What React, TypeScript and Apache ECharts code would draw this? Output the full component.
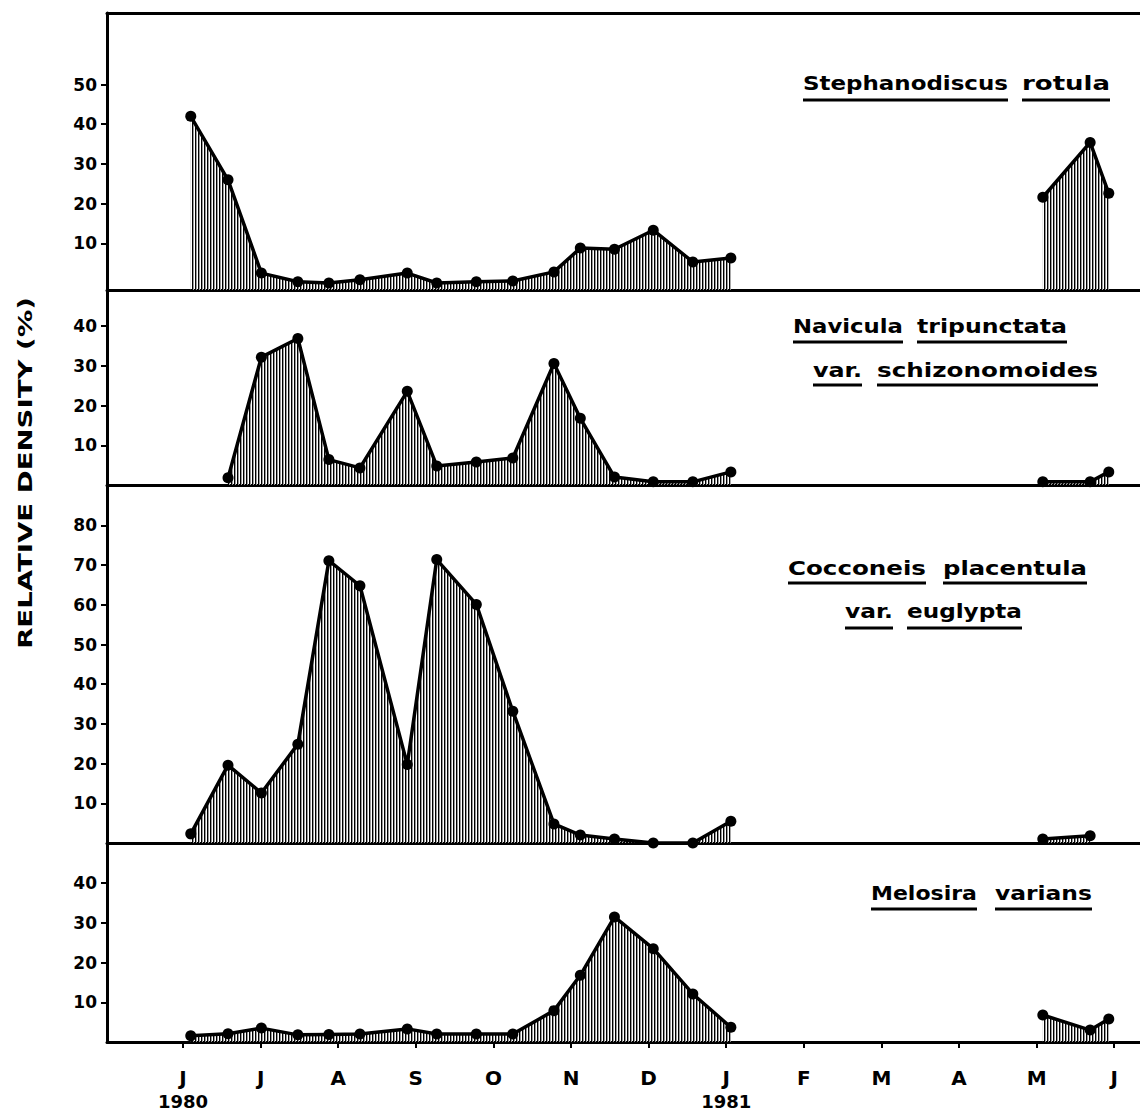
import React, { useEffect, useRef } from 'react';
import * as echarts from 'echarts';

// Month axis: 0 = June 1980, 12 = June 1981
const monthLabels = ['J', 'J', 'A', 'S', 'O', 'N', 'D', 'J', 'F', 'M', 'A', 'M', 'J'];
const yearLabels: Record<number, string> = { 0: '1980', 7: '1981' };
const monthTicks = [0, 1, 2, 3, 4, 5, 6, 7, 8, 9, 10, 11, 12];

// Sampling dates, in months after 1 June 1980
const sampleMonths1980 = [0.1, 0.58, 1.01, 1.48, 1.88, 2.28, 2.89, 3.27, 3.78, 4.25, 4.78, 5.12, 5.56, 6.06, 6.57, 7.06];
const sampleMonths1981 = [11.08, 11.69, 11.93];

// Relative density (%) per taxon
const stephanodiscus1980 = [42, 26, 2.5, 0.3, 0, 0.8, 2.5, 0, 0.3, 0.5, 2.8, 8.8, 8.5, 13.3, 5.3, 6.3];
const stephanodiscus1981 = [21.6, 35.4, 22.6];
const navicula1980 = [null, 1.8, 32.2, 36.9, 6.4, 4.3, 23.6, 4.8, 5.8, 6.8, 30.6, 16.8, 2, 0.8, 0.8, 3.3];
const navicula1981 = [0.8, 0.8, 3.3];
const cocconeis1980 = [2.3, 19.6, 12.6, 24.9, 71.1, 64.8, 19.8, 71.4, 60.1, 33.2, 4.8, 2, 1, 0, 0, 5.5];
const cocconeis1981 = [1, 1.8, null];
const melosira1980 = [1.6, 2.1, 3.5, 1.8, 1.9, 2, 3.3, 2, 2, 2, 7.9, 16.8, 31.5, 23.5, 12.1, 3.7];
const melosira1981 = [6.8, 3, 5.8];

const panel1Ticks = [10, 20, 30, 40, 50];
const panel2Ticks = [10, 20, 30, 40];
const panel3Ticks = [10, 20, 30, 40, 50, 60, 70, 80];
const panel4Ticks = [10, 20, 30, 40];

// Layout
const FONT = '"DejaVu Sans", "Liberation Sans", sans-serif';
const FRAME_LEFT = 107;
const PANEL_EDGES = [13, 290, 485, 843, 1042];
const PX_PER_UNIT = 3.97;
const JUNE_1980_PX = 183;
const PX_PER_MONTH = 77.6;
const X_MIN = (FRAME_LEFT - JUNE_1980_PX) / PX_PER_MONTH;
const X_MAX = (1140 - JUNE_1980_PX) / PX_PER_MONTH;

const panels = [
  { a: stephanodiscus1980, b: stephanodiscus1981, ticks: panel1Ticks, yMin: -1.76 },
  { a: navicula1980, b: navicula1981, ticks: panel2Ticks, yMin: 0 },
  { a: cocconeis1980, b: cocconeis1981, ticks: panel3Ticks, yMin: 0 },
  { a: melosira1980, b: melosira1981, ticks: panel4Ticks, yMin: 0 },
];

// Species names: each word with its left/right extent, baseline and underline
const titleLines = [
  { baseline: 90, underline: 100, words: [['Stephanodiscus', 803, 1008], ['rotula', 1022, 1110]] },
  { baseline: 333, underline: 342, words: [['Navicula', 793, 903], ['tripunctata', 917, 1067]] },
  { baseline: 377, underline: 385, words: [['var.', 813, 862], ['schizonomoides', 877, 1098]] },
  { baseline: 575, underline: 583, words: [['Cocconeis', 788, 926], ['placentula', 943, 1087]] },
  { baseline: 618, underline: 628, words: [['var.', 845, 893], ['euglypta', 907, 1022]] },
  { baseline: 900, underline: 909, words: [['Melosira', 871, 977], ['varians', 995, 1092]] },
];

function measure(text: string, size: number): number {
  const ctx = document.createElement('canvas').getContext('2d')!;
  ctx.font = `bold ${size}px ${FONT}`;
  return ctx.measureText(text).width;
}

// vertical hatching used for the area fills
function makeHatch(): HTMLCanvasElement {
  const c = document.createElement('canvas');
  c.width = 3;
  c.height = 4;
  const g = c.getContext('2d')!;
  g.fillStyle = '#000';
  g.fillRect(0, 0, 1, 4);
  g.fillStyle = '#9a9a9a';
  g.fillRect(1, 0, 1, 4);
  return c;
}

function pairs(months: number[], values: (number | null)[]) {
  return months
    .map((m, i) => [m, values[i]] as [number, number | null])
    .filter((p) => p[1] !== null && p[1] !== undefined);
}

export default function App() {
  const ref = useRef<HTMLDivElement>(null);

  useEffect(() => {
    const chart = echarts.init(ref.current!, null, { renderer: 'svg' });
    const hatch = makeHatch();

    const grids = panels.map((_, i) => ({
      left: FRAME_LEFT,
      right: 0,
      top: PANEL_EDGES[i],
      height: PANEL_EDGES[i + 1] - PANEL_EDGES[i],
    }));

    const yAxes = panels.map((p, i) => ({
      type: 'value',
      gridIndex: i,
      min: p.yMin,
      max: p.yMin + (PANEL_EDGES[i + 1] - PANEL_EDGES[i]) / PX_PER_UNIT,
      axisLine: { show: true, onZero: false, lineStyle: { color: '#000', width: 3 } },
      axisTick: { show: true, customValues: p.ticks, length: 6, inside: false, lineStyle: { color: '#000', width: 2 } },
      axisLabel: {
        show: true,
        customValues: p.ticks,
        margin: 10,
        color: '#000',
        fontSize: 17,
        fontWeight: 'bold',
        fontFamily: FONT,
      },
      splitLine: { show: false },
    }));

    const last = panels.length - 1;
    const xAxes: any[] = panels.map((_, i) => ({
      type: 'value',
      gridIndex: i,
      min: X_MIN,
      max: X_MAX,
      axisLine: { show: true, onZero: false, lineStyle: { color: '#000', width: 3 } },
      splitLine: { show: false },
      axisTick:
        i === last
          ? { show: true, customValues: monthTicks, length: 6, inside: false, lineStyle: { color: '#000', width: 2 } }
          : { show: false },
      axisLabel:
        i === last
          ? {
              show: true,
              customValues: monthTicks,
              margin: 24,
              formatter: (v: number) => {
                const k = Math.round(v);
                const m = `{m|${monthLabels[k]}}`;
                return yearLabels[k] ? `${m}\n{y|${yearLabels[k]}}` : m;
              },
              rich: {
                m: { fontSize: 20, fontWeight: 'bold', fontFamily: FONT, color: '#000', lineHeight: 24 },
                y: { fontSize: 18, fontWeight: 'bold', fontFamily: FONT, color: '#000', lineHeight: 22 },
              },
            }
          : { show: false },
    }));
    // top edge of the frame
    xAxes.push({
      type: 'value',
      gridIndex: 0,
      position: 'top',
      min: X_MIN,
      max: X_MAX,
      axisLine: { show: true, onZero: false, lineStyle: { color: '#000', width: 3 } },
      axisTick: { show: false },
      axisLabel: { show: false },
      splitLine: { show: false },
    });

    const series: any[] = [];
    panels.forEach((p, i) => {
      [pairs(sampleMonths1980, p.a), pairs(sampleMonths1981, p.b)].forEach((data) => {
        series.push({
          type: 'line',
          xAxisIndex: i,
          yAxisIndex: i,
          data,
          symbol: 'circle',
          symbolSize: 11,
          itemStyle: { color: '#000' },
          lineStyle: { color: '#000', width: 3.5 },
          areaStyle: { color: { image: hatch, repeat: 'repeat' }, opacity: 1, origin: 'start' },
          z: 3,
        });
      });
    });

    const graphic: any[] = [];
    const titleSize = 20;
    titleLines.forEach((line) => {
      line.words.forEach(([text, left, right]) => {
        const w = measure(text as string, titleSize);
        graphic.push({
          type: 'text',
          x: left as number,
          y: line.baseline - 7,
          scaleX: ((right as number) - (left as number)) / w,
          style: {
            text,
            fontSize: titleSize,
            fontWeight: 'bold',
            fontFamily: FONT,
            fill: '#000',
            align: 'left',
            verticalAlign: 'middle',
          },
        });
        graphic.push({
          type: 'rect',
          shape: { x: left as number, y: line.underline - 1.5, width: (right as number) - (left as number), height: 3 },
          style: { fill: '#000' },
        });
      });
    });

    const yTitle = 'RELATIVE DENSITY (%)';
    const yTitleSize = 20;
    graphic.push({
      type: 'text',
      x: 25,
      y: 473,
      rotation: Math.PI / 2,
      scaleX: 352 / measure(yTitle, yTitleSize),
      style: {
        text: yTitle,
        fontSize: yTitleSize,
        fontWeight: 'bold',
        fontFamily: FONT,
        fill: '#000',
        align: 'center',
        verticalAlign: 'middle',
      },
    });

    chart.setOption({
      animation: false,
      backgroundColor: '#fff',
      grid: grids,
      xAxis: xAxes,
      yAxis: yAxes,
      series,
      graphic,
    });

    return () => chart.dispose();
  }, []);

  return (
    <div
      ref={ref}
      style={{ position: 'absolute', left: 0, top: 0, width: 1140, height: 1119, background: '#fff' }}
    />
  );
}
